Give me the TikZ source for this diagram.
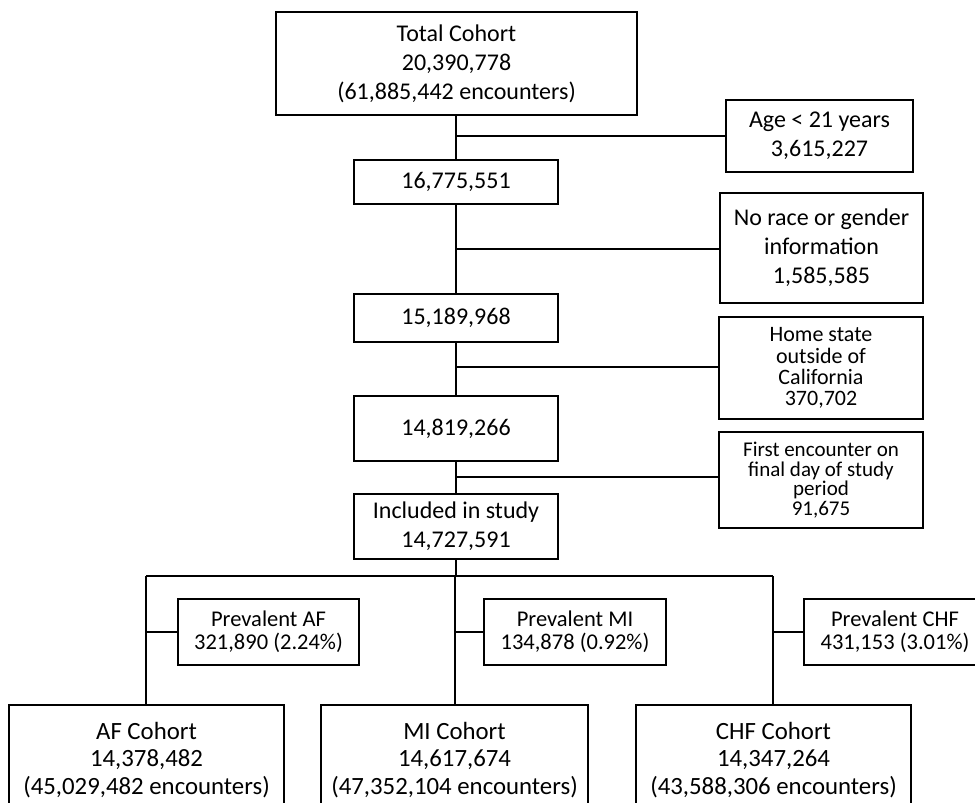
\documentclass[tikz,border=0pt]{standalone}
\usepackage{fontspec}
\setmainfont{Carlito}
\begin{document}
\begin{tikzpicture}[x=1pt,y=-1pt,
  box/.style={draw, line width=2pt, inner sep=0pt, align=center, font=\fontsize{24}{29}\selectfont},
  homebox/.style={box, font=\fontsize{22}{21.3}\selectfont},
  firstbox/.style={box, font=\fontsize{21}{19.7}\selectfont},
  prevbox/.style={box, font=\fontsize{22.5}{23.3}\selectfont},
  cohbox/.style={box, font=\fontsize{24.8}{27.5}\selectfont},
  conn/.style={line width=2pt}]
\useasboundingbox (0,0) rectangle (975,803);
\clip (0,0) rectangle (975,803);
\fill[white] (0,0) rectangle (975,803);
% main column
\node[box, minimum width=361pt, minimum height=103pt] (total) at (456.5,63.5) {Total Cohort\\20,390,778\\(61,885,442 encounters)};
\node[box, minimum width=204pt, minimum height=44pt] (n1) at (456,182) {16,775,551};
\node[box, minimum width=204pt, minimum height=48pt] (n2) at (456,318) {15,189,968};
\node[box, minimum width=204pt, minimum height=65pt] (n3) at (456,428.5) {14,819,266};
\node[box, minimum width=204pt, minimum height=65pt] (incl) at (456,526.5) {Included in study\\14,727,591};
% exclusions
\node[box, minimum width=187pt, minimum height=72pt] (age) at (819.5,136) {Age < 21 years\\3,615,227};
\node[box, minimum width=203pt, minimum height=110pt] (race) at (821.5,248) {No race or gender\\information\\1,585,585};
\node[homebox, minimum width=204pt, minimum height=102pt] (home) at (821,368) {Home state\\outside of\\California\\370,702};
\node[firstbox, minimum width=204pt, minimum height=96pt] (first) at (821,480) {First encounter on\\final day of study\\period\\91,675};
% prevalent
\node[prevbox, minimum width=181pt, minimum height=66pt] (paf) at (268.5,632) {Prevalent AF\\321,890 (2.24\%)};
\node[prevbox, minimum width=182pt, minimum height=66pt] (pmi) at (575,632) {Prevalent MI\\134,878 (0.92\%)};
\node[prevbox, minimum width=182pt, minimum height=66pt] (pchf) at (895,632) {Prevalent CHF\\431,153 (3.01\%)};
% cohorts
\node[cohbox, minimum width=275pt, minimum height=110pt] (caf) at (146.5,760) {AF Cohort\\14,378,482\\(45,029,482 encounters)};
\node[cohbox, minimum width=267pt, minimum height=110pt] (cmi) at (454.5,760) {MI Cohort\\14,617,674\\(47,352,104 encounters)};
\node[cohbox, minimum width=275pt, minimum height=110pt] (cchf) at (773.5,760) {CHF Cohort\\14,347,264\\(43,588,306 encounters)};
% coordinates
\coordinate (b1) at (456,136);
\coordinate (b2) at (456,249);
\coordinate (b3) at (456,367);
\coordinate (b4) at (456,477);
\coordinate (bar) at (456,576);
\coordinate (barL) at (146,576);
\coordinate (barR) at (773,576);
\coordinate (sL) at (146,632);
\coordinate (sM) at (455,632);
\coordinate (sR) at (773,632);
% connectors
\draw[conn] (total.south -| n1) -- (n1.north);
\draw[conn] (b1) -- (b1 -| age.west);
\draw[conn] (n1.south) -- (n2.north);
\draw[conn] (b2) -- (b2 -| race.west);
\draw[conn] (n2.south) -- (n3.north);
\draw[conn] (b3) -- (b3 -| home.west);
\draw[conn] (n3.south) -- (incl.north);
\draw[conn] (b4) -- (b4 -| first.west);
\draw[conn] (incl.south) -- (bar);
\draw[conn] (barL) -- (barR);
\draw[conn] (barL) -- (caf.north -| barL);
\draw[conn] (sM |- bar) -- (cmi.north -| sM);
\draw[conn] (barR) -- (cchf.north -| barR);
\draw[conn] (sL) -- (paf.west);
\draw[conn] (sM) -- (pmi.west);
\draw[conn] (sR) -- (pchf.west);
\end{tikzpicture}
\end{document}
